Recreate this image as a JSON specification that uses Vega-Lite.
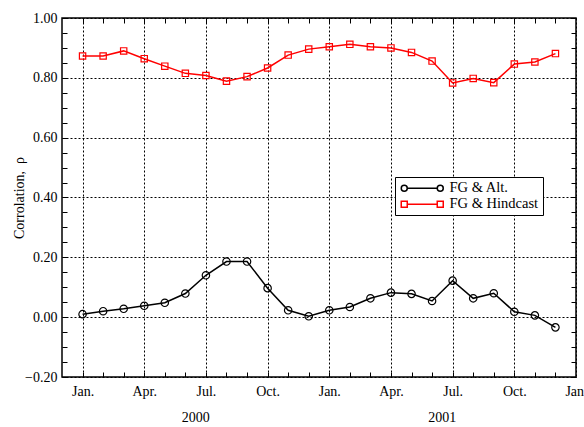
{
  "$schema": "https://vega.github.io/schema/vega-lite/v6.json",
  "width": 514,
  "height": 359,
  "autosize": {"type": "none"},
  "padding": {"left": 62, "top": 18, "right": 8, "bottom": 50},
  "config": {
    "view": {"stroke": "black", "strokeWidth": 1.5},
    "font": "'Liberation Serif', 'Times New Roman', serif",
    "axis": {
      "labelFont": "'Liberation Serif', 'Times New Roman', serif",
      "labelFontSize": 14,
      "labelColor": "black",
      "labelFlush": false,
      "titleFont": "'Liberation Serif', 'Times New Roman', serif",
      "titleFontSize": 14,
      "titleFontWeight": "normal",
      "titleColor": "black",
      "domain": false,
      "tickColor": "black",
      "tickWidth": 1
    },
    "legend": {
      "orient": "none",
      "legendX": 333,
      "legendY": 159,
      "strokeColor": "black",
      "fillColor": "white",
      "padding": 4,
      "labelFont": "'Liberation Serif', 'Times New Roman', serif",
      "labelFontSize": 14.5,
      "labelColor": "black",
      "symbolSize": 100,
      "symbolStrokeWidth": 1.5,
      "symbolOffset": 16,
      "labelOffset": 20,
      "rowPadding": 1
    }
  },
  "datasets": {
    "corr": [
      {"month": 0, "rho": 0.010, "series": "FG & Alt."},
      {"month": 1, "rho": 0.020, "series": "FG & Alt."},
      {"month": 2, "rho": 0.028, "series": "FG & Alt."},
      {"month": 3, "rho": 0.038, "series": "FG & Alt."},
      {"month": 4, "rho": 0.048, "series": "FG & Alt."},
      {"month": 5, "rho": 0.079, "series": "FG & Alt."},
      {"month": 6, "rho": 0.140, "series": "FG & Alt."},
      {"month": 7, "rho": 0.186, "series": "FG & Alt."},
      {"month": 8, "rho": 0.186, "series": "FG & Alt."},
      {"month": 9, "rho": 0.097, "series": "FG & Alt."},
      {"month": 10, "rho": 0.023, "series": "FG & Alt."},
      {"month": 11, "rho": 0.003, "series": "FG & Alt."},
      {"month": 12, "rho": 0.023, "series": "FG & Alt."},
      {"month": 13, "rho": 0.034, "series": "FG & Alt."},
      {"month": 14, "rho": 0.063, "series": "FG & Alt."},
      {"month": 15, "rho": 0.082, "series": "FG & Alt."},
      {"month": 16, "rho": 0.078, "series": "FG & Alt."},
      {"month": 17, "rho": 0.054, "series": "FG & Alt."},
      {"month": 18, "rho": 0.122, "series": "FG & Alt."},
      {"month": 19, "rho": 0.063, "series": "FG & Alt."},
      {"month": 20, "rho": 0.080, "series": "FG & Alt."},
      {"month": 21, "rho": 0.018, "series": "FG & Alt."},
      {"month": 22, "rho": 0.006, "series": "FG & Alt."},
      {"month": 23, "rho": -0.034, "series": "FG & Alt."},
      {"month": 0, "rho": 0.873, "series": "FG & Hindcast"},
      {"month": 1, "rho": 0.873, "series": "FG & Hindcast"},
      {"month": 2, "rho": 0.890, "series": "FG & Hindcast"},
      {"month": 3, "rho": 0.864, "series": "FG & Hindcast"},
      {"month": 4, "rho": 0.839, "series": "FG & Hindcast"},
      {"month": 5, "rho": 0.815, "series": "FG & Hindcast"},
      {"month": 6, "rho": 0.808, "series": "FG & Hindcast"},
      {"month": 7, "rho": 0.789, "series": "FG & Hindcast"},
      {"month": 8, "rho": 0.804, "series": "FG & Hindcast"},
      {"month": 9, "rho": 0.833, "series": "FG & Hindcast"},
      {"month": 10, "rho": 0.876, "series": "FG & Hindcast"},
      {"month": 11, "rho": 0.896, "series": "FG & Hindcast"},
      {"month": 12, "rho": 0.904, "series": "FG & Hindcast"},
      {"month": 13, "rho": 0.912, "series": "FG & Hindcast"},
      {"month": 14, "rho": 0.904, "series": "FG & Hindcast"},
      {"month": 15, "rho": 0.900, "series": "FG & Hindcast"},
      {"month": 16, "rho": 0.885, "series": "FG & Hindcast"},
      {"month": 17, "rho": 0.856, "series": "FG & Hindcast"},
      {"month": 18, "rho": 0.783, "series": "FG & Hindcast"},
      {"month": 19, "rho": 0.798, "series": "FG & Hindcast"},
      {"month": 20, "rho": 0.784, "series": "FG & Hindcast"},
      {"month": 21, "rho": 0.846, "series": "FG & Hindcast"},
      {"month": 22, "rho": 0.853, "series": "FG & Hindcast"},
      {"month": 23, "rho": 0.881, "series": "FG & Hindcast"}
    ],
    "years": [
      {"month": 5.5, "rho": -0.337, "label": "2000"},
      {"month": 17.5, "rho": -0.337, "label": "2001"}
    ]
  },
  "resolve": {"axis": {"x": "independent", "y": "independent"}},
  "layer": [
    {
      "data": {"name": "corr"},
      "mark": {"type": "line", "strokeWidth": 1.5},
      "encoding": {
        "x": {
          "field": "month", "type": "quantitative",
          "scale": {"domain": [-1, 24], "nice": false, "zero": false},
          "axis": {
            "orient": "bottom", "title": null,
            "values": [0, 3, 6, 9, 12, 15, 18, 21, 24],
            "labelExpr": "['Jan.','Apr.','Jul.','Oct.'][(datum.value/3)%4]",
            "ticks": false, "labelPadding": 7,
            "grid": true, "gridColor": "black", "gridDash": [2, 2], "gridOpacity": 1, "gridWidth": 1
          }
        },
        "y": {
          "field": "rho", "type": "quantitative",
          "scale": {"domain": [-0.2, 1.0], "nice": false, "zero": false},
          "axis": {
            "orient": "left", "title": "Corrolation,\u00a0\u00a0ρ",
            "values": [-0.2, 0, 0.2, 0.4, 0.6, 0.8, 1.0],
            "format": ".2f",
            "ticks": false, "labelPadding": 5, "titlePadding": -2,
            "grid": true, "gridColor": "black", "gridDash": [2, 2], "gridOpacity": 1, "gridWidth": 1
          }
        },
        "color": {
          "field": "series", "type": "nominal",
          "scale": {"domain": ["FG & Alt.", "FG & Hindcast"], "range": ["black", "#ff0000"]},
          "legend": {
            "title": null,
            "encode": {
              "symbols": {
                "update": {
                  "shape": {"signal": "datum.value === 'FG & Alt.' ? 'M-4.2,0A0.6,0.6,0,1,1,-3,0A0.6,0.6,0,1,1,-4.2,0M-3,0L3,0M3,0A0.6,0.6,0,1,1,4.2,0A0.6,0.6,0,1,1,3,0' : 'M-4.2,-0.6L-3,-0.6L-3,0.6L-4.2,0.6ZM-3,0L3,0M3,-0.6L4.2,-0.6L4.2,0.6L3,0.6Z'"},
                  "fill": {"value": "transparent"}
                }
              }
            }
          }
        }
      }
    },
    {
      "data": {"name": "corr"},
      "mark": {"type": "point", "filled": false, "strokeWidth": 1.2, "opacity": 1},
      "encoding": {
        "x": {
          "field": "month", "type": "quantitative",
          "axis": {
            "orient": "bottom", "title": null, "labels": false, "grid": false,
            "values": [0,1,2,3,4,5,6,7,8,9,10,11,12,13,14,15,16,17,18,19,20,21,22,23],
            "tickSize": -5
          }
        },
        "y": {
          "field": "rho", "type": "quantitative",
          "axis": {
            "orient": "left", "title": null, "labels": false, "grid": false,
            "values": [-0.2,-0.15,-0.1,-0.05,0,0.05,0.1,0.15,0.2,0.25,0.3,0.35,0.4,0.45,0.5,0.55,0.6,0.65,0.7,0.75,0.8,0.85,0.9,0.95,1.0],
            "tickSize": -5
          }
        },
        "color": {"field": "series", "type": "nominal", "legend": null},
        "shape": {
          "condition": {"test": "datum.series === 'FG & Alt.'", "value": "circle"},
          "value": "square"
        },
        "size": {
          "condition": {"test": "datum.series === 'FG & Alt.'", "value": 55},
          "value": 40
        }
      }
    },
    {
      "data": {"name": "years"},
      "mark": {"type": "text", "fontSize": 14, "font": "'Liberation Serif', 'Times New Roman', serif", "color": "black", "baseline": "middle"},
      "encoding": {
        "x": {
          "field": "month", "type": "quantitative",
          "axis": {
            "orient": "top", "title": null, "labels": false, "grid": false,
            "values": [0,1,2,3,4,5,6,7,8,9,10,11,12,13,14,15,16,17,18,19,20,21,22,23],
            "tickSize": -5
          }
        },
        "y": {
          "field": "rho", "type": "quantitative",
          "axis": {
            "orient": "right", "title": null, "labels": false, "grid": false,
            "values": [-0.2,-0.15,-0.1,-0.05,0,0.05,0.1,0.15,0.2,0.25,0.3,0.35,0.4,0.45,0.5,0.55,0.6,0.65,0.7,0.75,0.8,0.85,0.9,0.95,1.0],
            "tickSize": -5
          }
        },
        "text": {"field": "label"}
      }
    }
  ]
}
